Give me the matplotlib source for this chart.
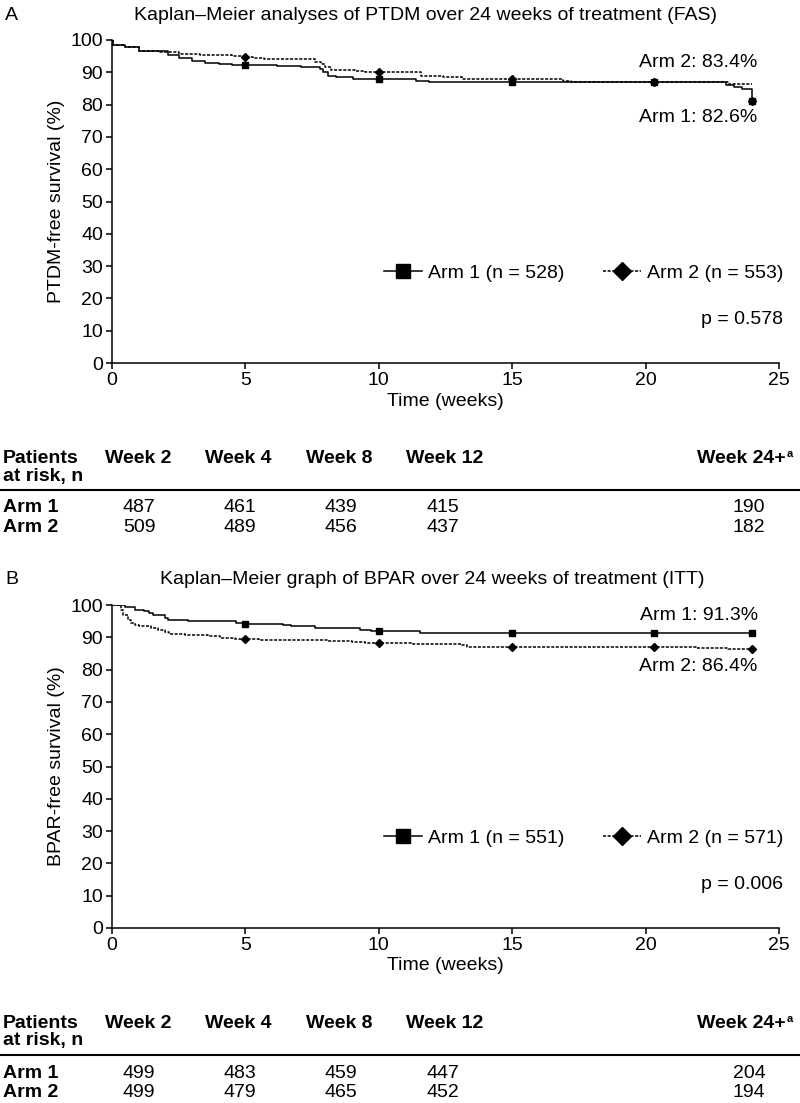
import matplotlib
matplotlib.use("Agg")
import matplotlib.pyplot as plt
from matplotlib.lines import Line2D
from matplotlib import font_manager

W, H = 800, 1103
names = {f.name for f in font_manager.fontManager.ttflist}
fam = [n for n in ["Liberation Sans Narrow", "Liberation Sans", "DejaVu Sans"] if n in names]
plt.rcParams['font.family'] = fam

# ---------------- data ----------------
# Panel A: PTDM (FAS)
a_arm1_t = [0, 0.05, 0.5, 1.0, 2.1, 2.5, 3.0, 3.5, 4.0, 4.5, 6.2, 7.1, 7.8, 7.9, 8.1, 8.4, 9.05, 9.1, 11.4, 11.9, 23.0, 23.3, 23.6, 24.0, 24.0]
a_arm1_s = [100, 98.5, 97.8, 96.5, 95.5, 94.5, 93.5, 93.0, 92.5, 92.3, 92.0, 91.7, 91.0, 90.0, 89.0, 88.5, 88.0, 87.8, 87.3, 87.0, 86.0, 85.3, 84.7, 84.7, 81.2]
a_arm2_t = [0, 0.05, 0.5, 1.0, 1.8, 2.5, 3.3, 4.5, 5.0, 5.3, 5.7, 7.6, 7.85, 8.0, 8.2, 9.1, 9.5, 11.6, 12.4, 13.1, 16.9, 17.2, 23.1, 24.0]
a_arm2_s = [100, 98.5, 97.8, 96.5, 96.2, 95.8, 95.5, 95.0, 94.7, 94.3, 94.0, 93.3, 92.5, 91.5, 90.7, 90.3, 90.0, 89.0, 88.5, 88.0, 87.3, 87.0, 86.3, 86.3]
a_arm1_mk_t = [5, 10, 15, 20.3, 24]
a_arm1_mk_s = [92.3, 87.8, 87.0, 87.0, 81.2]
a_arm2_mk_t = [5, 10, 15, 20.3, 24]
a_arm2_mk_s = [94.7, 90.0, 88.0, 87.0, 81.2]
a_label1 = "Arm 1 (n = 528)"
a_label2 = "Arm 2 (n = 553)"
a_p = "p = 0.578"
a_end1 = "Arm 1: 82.6%"
a_end2 = "Arm 2: 83.4%"
a_title = "Kaplan\u2013Meier analyses of PTDM over 24 weeks of treatment (FAS)"
a_risk1 = ["487", "461", "439", "415", "190"]
a_risk2 = ["509", "489", "456", "437", "182"]

# Panel B: BPAR (ITT)
b_arm1_t = [0, 0.5, 0.86, 1.2, 1.4, 1.55, 2.0, 2.1, 2.5, 2.85, 4.65, 5.1, 6.4, 6.7, 7.6, 9.0, 9.3, 9.7, 11.55, 24.0]
b_arm1_s = [100, 99.5, 98.5, 98.0, 97.5, 96.8, 96.0, 95.5, 95.3, 95.0, 94.5, 94.2, 93.8, 93.5, 93.0, 92.8, 92.4, 92.0, 91.3, 91.3]
b_arm2_t = [0, 0.35, 0.43, 0.6, 0.7, 0.86, 1.03, 1.46, 1.72, 2.0, 2.15, 2.75, 3.6, 4.05, 4.6, 5.5, 8.1, 9.0, 9.5, 11.3, 13.1, 13.3, 21.9, 23.1, 24.0]
b_arm2_s = [100, 98.5, 97.0, 95.5, 94.3, 93.8, 93.5, 93.0, 92.3, 91.5, 91.0, 90.8, 90.4, 89.9, 89.6, 89.3, 88.8, 88.5, 88.3, 88.0, 87.6, 87.0, 86.6, 86.3, 86.3]
b_arm1_mk_t = [5, 10, 15, 20.3, 24]
b_arm1_mk_s = [94.2, 92.0, 91.3, 91.3, 91.3]
b_arm2_mk_t = [5, 10, 15, 20.3, 24]
b_arm2_mk_s = [89.6, 88.3, 87.0, 87.0, 86.3]
b_label1 = "Arm 1 (n = 551)"
b_label2 = "Arm 2 (n = 571)"
b_p = "p = 0.006"
b_end1 = "Arm 1: 91.3%"
b_end2 = "Arm 2: 86.4%"
b_title = "Kaplan\u2013Meier graph of BPAR over 24 weeks of treatment (ITT)"
b_risk1 = ["499", "483", "459", "447", "204"]
b_risk2 = ["499", "479", "465", "452", "194"]

weeks = ["Week 2", "Week 4", "Week 8", "Week 12"]
xticks = [0, 5, 10, 15, 20, 25]
yticks = list(range(0, 101, 10))

FS = 14
LW = 1.1
DASH = (0, (2.0, 1.0))

fig = plt.figure(figsize=(W / 100, H / 100), dpi=100)

def fx(px):
    return px / W

def fy(py):
    return 1 - py / H

def panel(letter, title, title_cx, top_px, bot_px, a1t, a1s, a2t, a2s, m1t, m1s, m2t, m2s,
          l1, l2, ptxt, e1, e1y, e2, e2y, ylabel, r1, r2):
    ax = fig.add_axes([fx(112), fy(bot_px), fx(779 - 112), (bot_px - top_px) / H])
    ax.step(a1t, a1s, where='post', color='black', lw=LW)
    ax.step(a2t, a2s, where='post', color='black', lw=LW, ls=DASH)
    ax.plot(m1t, m1s, ls='none', marker='s', ms=4.8, color='black')
    ax.plot(m2t, m2s, ls='none', marker='D', ms=4.3, color='black')
    ax.set_xlim(0, 25)
    ax.set_ylim(0, 100)
    ax.set_xticks(xticks)
    ax.set_yticks(yticks)
    ax.tick_params(labelsize=FS, length=4.5, width=1.1, pad=2, direction='out')
    for s in ['top', 'right']:
        ax.spines[s].set_visible(False)
    for s in ['left', 'bottom']:
        ax.spines[s].set_linewidth(1.1)
    ax.set_ylabel(ylabel, fontsize=FS, labelpad=4)
    h1 = Line2D([], [], color='black', lw=LW, marker='s', ms=9.4)
    h2 = Line2D([], [], color='black', lw=LW, ls=DASH, marker='D', ms=9.0)
    ax.legend([h1, h2], [l1, l2], loc='center right', bbox_to_anchor=((783 - 112) / 667, 0.278),
              ncol=2, frameon=False, fontsize=FS, handlelength=1.95,
              handletextpad=0.3, columnspacing=2.0, borderaxespad=0, borderpad=0)
    ax.text((783 - 112) / 26.68, 13.4, ptxt, ha='right', va='center', fontsize=FS)
    ax.text(24.2, e1y, e1, ha='right', va='center', fontsize=FS)
    ax.text(24.2, e2y, e2, ha='right', va='center', fontsize=FS)

    fig.text(fx(title_cx), fy(top_px - 25), title, fontsize=FS, ha='center', va='center')
    fig.text(fx(5), fy(top_px - 25), letter, fontsize=FS, ha='left', va='center')
    fig.text(fx((112 + 779) / 2), fy(bot_px + 38), "Time (weeks)", fontsize=FS,
             ha='center', va='center')

    # risk table
    cols_h = [138, 238, 339, 445]
    cols_v = [139, 240, 341, 443]
    y0 = bot_px + 95
    fig.text(fx(3), fy(y0), "Patients", fontsize=FS, weight='bold', ha='left', va='center')
    fig.text(fx(3), fy(y0 + 18), "at risk, n", fontsize=FS, weight='bold', ha='left', va='center')
    for c, w in zip(cols_h, weeks):
        fig.text(fx(c), fy(y0), w, fontsize=FS, weight='bold', ha='center', va='center')
    fig.text(fx(786), fy(y0), "Week 24+", fontsize=FS, weight='bold', ha='right', va='center')
    fig.text(fx(787), fy(y0 - 4), "a", fontsize=8, weight='bold', ha='left', va='center')
    ly = y0 + 32
    fig.add_artist(Line2D([0, 1], [fy(ly), fy(ly)], color='black', lw=1.5,
                          transform=fig.transFigure))
    for i, (lab, row) in enumerate([("Arm 1", r1), ("Arm 2", r2)]):
        yy = y0 + 50 + i * 19.5
        fig.text(fx(3), fy(yy), lab, fontsize=FS, weight='bold', ha='left', va='center')
        for c, v in zip(cols_v, row[:4]):
            fig.text(fx(c), fy(yy), v, fontsize=FS, ha='center', va='center')
        fig.text(fx(749), fy(yy), row[4], fontsize=FS, ha='center', va='center')

panel("A", a_title, 425, 40, 363, a_arm1_t, a_arm1_s, a_arm2_t, a_arm2_s,
      a_arm1_mk_t, a_arm1_mk_s, a_arm2_mk_t, a_arm2_mk_s,
      a_label1, a_label2, a_p, a_end1, 75.9, a_end2, 92.9, "PTDM-free survival (%)",
      a_risk1, a_risk2)
panel("B", b_title, 432, 605, 928, b_arm1_t, b_arm1_s, b_arm2_t, b_arm2_s,
      b_arm1_mk_t, b_arm1_mk_s, b_arm2_mk_t, b_arm2_mk_s,
      b_label1, b_label2, b_p, b_end1, 96.9, b_end2, 81.1, "BPAR-free survival (%)",
      b_risk1, b_risk2)

fig.savefig("out.png", dpi=100)
